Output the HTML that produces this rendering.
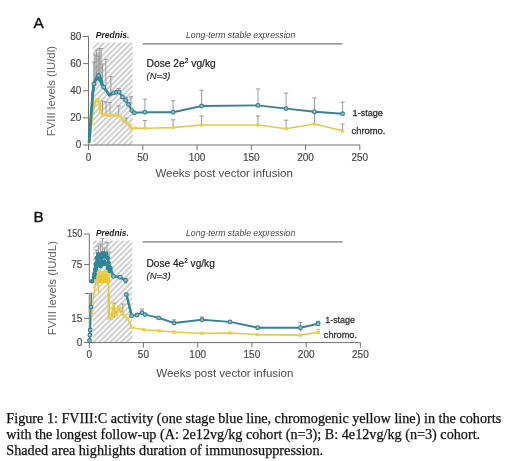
<!DOCTYPE html><html><head><meta charset="utf-8"><style>html,body{margin:0;padding:0;background:#fff;width:520px;height:461px;overflow:hidden}svg{display:block;font-family:"Liberation Sans",sans-serif;filter:blur(0.3px)}.cap{position:absolute;left:6.3px;top:409.7px;font-family:"Liberation Serif",serif;font-size:14.2px;line-height:16.1px;color:#111;white-space:nowrap;margin:0;-webkit-text-stroke:0.25px #111;filter:blur(0.3px)}</style></head><body>
<svg width="520" height="461" viewBox="0 0 520 461">
<defs><pattern id="hA" patternUnits="userSpaceOnUse" width="3.9" height="5" patternTransform="translate(1.9 0) rotate(45)"><rect width="2.1" height="5" fill="#d0d0d0"/></pattern><pattern id="hB" patternUnits="userSpaceOnUse" width="3.9" height="5" patternTransform="translate(-1.4 0) rotate(45)"><rect width="2.1" height="5" fill="#d0d0d0"/></pattern><clipPath id="cU"><rect x="80" y="225" width="300" height="58.3"/></clipPath><clipPath id="cL"><rect x="80" y="292.5" width="300" height="60"/></clipPath></defs>
<rect x="93.2" y="42.5" width="39.499999999999986" height="102.5" fill="url(#hA)"/>
<path d="M83 36.5H88.5V145H360M88.5 145V150" fill="none" stroke="#707070" stroke-width="1"/>
<line x1="83" y1="145.0" x2="88.5" y2="145.0" stroke="#707070" stroke-width="1"/>
<line x1="83" y1="117.875" x2="88.5" y2="117.875" stroke="#707070" stroke-width="1"/>
<line x1="83" y1="90.75" x2="88.5" y2="90.75" stroke="#707070" stroke-width="1"/>
<line x1="83" y1="63.625" x2="88.5" y2="63.625" stroke="#707070" stroke-width="1"/>
<line x1="142.8" y1="145" x2="142.8" y2="150" stroke="#707070" stroke-width="1"/>
<line x1="197.0" y1="145" x2="197.0" y2="150" stroke="#707070" stroke-width="1"/>
<line x1="251.3" y1="145" x2="251.3" y2="150" stroke="#707070" stroke-width="1"/>
<line x1="305.5" y1="145" x2="305.5" y2="150" stroke="#707070" stroke-width="1"/>
<line x1="359.8" y1="145" x2="359.8" y2="150" stroke="#707070" stroke-width="1"/>
<text x="81.3" y="148.2" font-size="10" text-anchor="end" fill="#4a4a4a" stroke="#4a4a4a" stroke-width="0.2"  >0</text>
<text x="81.3" y="121.075" font-size="10" text-anchor="end" fill="#4a4a4a" stroke="#4a4a4a" stroke-width="0.2"  >20</text>
<text x="81.3" y="93.95" font-size="10" text-anchor="end" fill="#4a4a4a" stroke="#4a4a4a" stroke-width="0.2"  >40</text>
<text x="81.3" y="66.825" font-size="10" text-anchor="end" fill="#4a4a4a" stroke="#4a4a4a" stroke-width="0.2"  >60</text>
<text x="81.3" y="39.7" font-size="10" text-anchor="end" fill="#4a4a4a" stroke="#4a4a4a" stroke-width="0.2"  >80</text>
<text x="88.5" y="160.8" font-size="10" text-anchor="middle" fill="#4a4a4a" stroke="#4a4a4a" stroke-width="0.2"  >0</text>
<text x="142.8" y="160.8" font-size="10" text-anchor="middle" fill="#4a4a4a" stroke="#4a4a4a" stroke-width="0.2"  >50</text>
<text x="197.0" y="160.8" font-size="10" text-anchor="middle" fill="#4a4a4a" stroke="#4a4a4a" stroke-width="0.2"  >100</text>
<text x="251.3" y="160.8" font-size="10" text-anchor="middle" fill="#4a4a4a" stroke="#4a4a4a" stroke-width="0.2"  >150</text>
<text x="305.5" y="160.8" font-size="10" text-anchor="middle" fill="#4a4a4a" stroke="#4a4a4a" stroke-width="0.2"  >200</text>
<text x="359.8" y="160.8" font-size="10" text-anchor="middle" fill="#4a4a4a" stroke="#4a4a4a" stroke-width="0.2"  >250</text>
<text x="155.4" y="177.2" font-size="11.5" text-anchor="start" fill="#4a4a4a"  textLength="137.4" lengthAdjust="spacingAndGlyphs">Weeks post vector infusion</text>
<text transform="translate(55.4,136.3) rotate(-90)" font-size="11.3" fill="#626262" textLength="90.3" lengthAdjust="spacingAndGlyphs">FVIII levels (IU/dl)</text>
<text x="33.6" y="27.9" font-size="15.4" text-anchor="start" fill="#111" stroke="#111" stroke-width="0.35"  >A</text>
<text x="95.8" y="38.1" font-size="8.5" text-anchor="start" fill="#222" font-weight="bold" font-style="italic" textLength="33.7" lengthAdjust="spacingAndGlyphs">Prednis.</text>
<text x="186" y="38" font-size="8.65" text-anchor="start" fill="#444" font-style="italic" textLength="109.2" lengthAdjust="spacingAndGlyphs">Long-term stable expression</text>
<line x1="142.5" y1="43.8" x2="342.3" y2="43.8" stroke="#7a7a7a" stroke-width="1.3"/>
<text x="146.6" y="66.6" font-size="10.2" fill="#222" stroke="#222" stroke-width="0.2" textLength="69.2" lengthAdjust="spacingAndGlyphs">Dose 2e<tspan font-size="6.5" dy="-3.2">2</tspan><tspan dy="3.2"> vg/kg</tspan></text>
<text x="146.6" y="78.6" font-size="9.2" text-anchor="start" fill="#333" stroke="#333" stroke-width="0.2" font-style="italic" textLength="23.7" lengthAdjust="spacingAndGlyphs">(N=3)</text>
<text x="352.6" y="115.8" font-size="9.0" text-anchor="start" fill="#333" stroke="#333" stroke-width="0.3"  textLength="30.2" lengthAdjust="spacingAndGlyphs">1-stage</text>
<text x="351.5" y="134.2" font-size="9.2" text-anchor="start" fill="#333" stroke="#333" stroke-width="0.3"  textLength="33.9" lengthAdjust="spacingAndGlyphs">chromo.</text>
<rect x="93.6" y="52" width="8" height="26" fill="#b5b5b5" opacity="0.45"/>
<line x1="93.8" y1="90" x2="93.8" y2="62" stroke="#9a9a9a" stroke-width="1"/>
<line x1="91.8" y1="62" x2="95.8" y2="62" stroke="#9a9a9a" stroke-width="1"/>
<line x1="95" y1="85" x2="95" y2="55" stroke="#9a9a9a" stroke-width="1"/>
<line x1="93" y1="55" x2="97" y2="55" stroke="#9a9a9a" stroke-width="1"/>
<line x1="96.7" y1="80" x2="96.7" y2="50" stroke="#9a9a9a" stroke-width="1"/>
<line x1="94.7" y1="50" x2="98.7" y2="50" stroke="#9a9a9a" stroke-width="1"/>
<line x1="98.3" y1="78" x2="98.3" y2="56" stroke="#9a9a9a" stroke-width="1"/>
<line x1="96.3" y1="56" x2="100.3" y2="56" stroke="#9a9a9a" stroke-width="1"/>
<line x1="99.3" y1="76" x2="99.3" y2="48.5" stroke="#9a9a9a" stroke-width="1"/>
<line x1="97.3" y1="48.5" x2="101.3" y2="48.5" stroke="#9a9a9a" stroke-width="1"/>
<line x1="101" y1="78" x2="101" y2="48.5" stroke="#9a9a9a" stroke-width="1"/>
<line x1="99" y1="48.5" x2="103" y2="48.5" stroke="#9a9a9a" stroke-width="1"/>
<line x1="102.5" y1="84" x2="102.5" y2="64" stroke="#9a9a9a" stroke-width="1"/>
<line x1="100.5" y1="64" x2="104.5" y2="64" stroke="#9a9a9a" stroke-width="1"/>
<line x1="105.8" y1="86" x2="105.8" y2="59.4" stroke="#9a9a9a" stroke-width="1"/>
<line x1="103.8" y1="59.4" x2="107.8" y2="59.4" stroke="#9a9a9a" stroke-width="1"/>
<line x1="110.8" y1="94" x2="110.8" y2="76.7" stroke="#9a9a9a" stroke-width="1"/>
<line x1="108.8" y1="76.7" x2="112.8" y2="76.7" stroke="#9a9a9a" stroke-width="1"/>
<line x1="118.7" y1="93" x2="118.7" y2="88.5" stroke="#9a9a9a" stroke-width="1"/>
<line x1="116.7" y1="88.5" x2="120.7" y2="88.5" stroke="#9a9a9a" stroke-width="1"/>
<line x1="126" y1="102" x2="126" y2="97.2" stroke="#9a9a9a" stroke-width="1"/>
<line x1="124" y1="97.2" x2="128" y2="97.2" stroke="#9a9a9a" stroke-width="1"/>
<line x1="130.9" y1="108" x2="130.9" y2="96.7" stroke="#9a9a9a" stroke-width="1"/>
<line x1="128.9" y1="96.7" x2="132.9" y2="96.7" stroke="#9a9a9a" stroke-width="1"/>
<line x1="102.5" y1="113" x2="102.5" y2="101" stroke="#9a9a9a" stroke-width="1"/>
<line x1="100.5" y1="101" x2="104.5" y2="101" stroke="#9a9a9a" stroke-width="1"/>
<line x1="106" y1="115" x2="106" y2="102" stroke="#9a9a9a" stroke-width="1"/>
<line x1="104" y1="102" x2="108" y2="102" stroke="#9a9a9a" stroke-width="1"/>
<line x1="110" y1="115" x2="110" y2="102.5" stroke="#9a9a9a" stroke-width="1"/>
<line x1="108" y1="102.5" x2="112" y2="102.5" stroke="#9a9a9a" stroke-width="1"/>
<line x1="118.75" y1="115" x2="118.75" y2="106" stroke="#9a9a9a" stroke-width="1"/>
<line x1="116.75" y1="106" x2="120.75" y2="106" stroke="#9a9a9a" stroke-width="1"/>
<line x1="126" y1="122" x2="126" y2="118" stroke="#9a9a9a" stroke-width="1"/>
<line x1="124" y1="118" x2="128" y2="118" stroke="#9a9a9a" stroke-width="1"/>
<line x1="144.9" y1="112.2" x2="144.9" y2="99" stroke="#9a9a9a" stroke-width="1"/>
<line x1="142.70000000000002" y1="99" x2="147.1" y2="99" stroke="#9a9a9a" stroke-width="1"/>
<line x1="173.1" y1="112.2" x2="173.1" y2="100.7" stroke="#9a9a9a" stroke-width="1"/>
<line x1="170.9" y1="100.7" x2="175.29999999999998" y2="100.7" stroke="#9a9a9a" stroke-width="1"/>
<line x1="201.6" y1="106" x2="201.6" y2="90.2" stroke="#9a9a9a" stroke-width="1"/>
<line x1="199.4" y1="90.2" x2="203.79999999999998" y2="90.2" stroke="#9a9a9a" stroke-width="1"/>
<line x1="258" y1="105.4" x2="258" y2="88.9" stroke="#9a9a9a" stroke-width="1"/>
<line x1="255.8" y1="88.9" x2="260.2" y2="88.9" stroke="#9a9a9a" stroke-width="1"/>
<line x1="286.1" y1="108.6" x2="286.1" y2="93.1" stroke="#9a9a9a" stroke-width="1"/>
<line x1="283.90000000000003" y1="93.1" x2="288.3" y2="93.1" stroke="#9a9a9a" stroke-width="1"/>
<line x1="314.5" y1="111.7" x2="314.5" y2="98" stroke="#9a9a9a" stroke-width="1"/>
<line x1="312.3" y1="98" x2="316.7" y2="98" stroke="#9a9a9a" stroke-width="1"/>
<line x1="342.6" y1="113.8" x2="342.6" y2="102.2" stroke="#9a9a9a" stroke-width="1"/>
<line x1="340.40000000000003" y1="102.2" x2="344.8" y2="102.2" stroke="#9a9a9a" stroke-width="1"/>
<line x1="144.9" y1="128.2" x2="144.9" y2="120.6" stroke="#9a9a9a" stroke-width="1"/>
<line x1="142.70000000000002" y1="120.6" x2="147.1" y2="120.6" stroke="#9a9a9a" stroke-width="1"/>
<line x1="173.1" y1="127.6" x2="173.1" y2="119.8" stroke="#9a9a9a" stroke-width="1"/>
<line x1="170.9" y1="119.8" x2="175.29999999999998" y2="119.8" stroke="#9a9a9a" stroke-width="1"/>
<line x1="201.6" y1="125" x2="201.6" y2="116" stroke="#9a9a9a" stroke-width="1"/>
<line x1="199.4" y1="116" x2="203.79999999999998" y2="116" stroke="#9a9a9a" stroke-width="1"/>
<line x1="258" y1="125" x2="258" y2="116" stroke="#9a9a9a" stroke-width="1"/>
<line x1="255.8" y1="116" x2="260.2" y2="116" stroke="#9a9a9a" stroke-width="1"/>
<line x1="286.1" y1="128.7" x2="286.1" y2="120.2" stroke="#9a9a9a" stroke-width="1"/>
<line x1="283.90000000000003" y1="120.2" x2="288.3" y2="120.2" stroke="#9a9a9a" stroke-width="1"/>
<line x1="314.5" y1="124" x2="314.5" y2="113" stroke="#9a9a9a" stroke-width="1"/>
<line x1="312.3" y1="113" x2="316.7" y2="113" stroke="#9a9a9a" stroke-width="1"/>
<line x1="342.6" y1="130.8" x2="342.6" y2="124" stroke="#9a9a9a" stroke-width="1"/>
<line x1="340.40000000000003" y1="124" x2="344.8" y2="124" stroke="#9a9a9a" stroke-width="1"/>
<polyline points="89.0,144.0 90.5,132.0 92.0,118.0 93.5,108.0 95.0,102.5 96.5,100.0 98.0,99.5 99.5,104.0 100.5,112.0 103.0,115.0 106.0,114.5 110.0,115.2 114.0,115.0 117.0,115.3 120.0,115.8 123.0,120.4 126.2,122.7 129.2,125.0 131.5,128.8 135.4,128.0 144.9,128.2 173.1,127.6 201.6,125.0 258.0,125.0 286.1,128.7 314.5,124.0 342.6,130.8" fill="none" stroke="#e2ca48" stroke-width="1.6" stroke-linejoin="round"/>
<polyline points="89.0,144.0 90.5,132.0 92.0,118.0 93.5,108.0 95.0,102.5 96.5,100.0 98.0,99.5 99.5,104.0 100.5,112.0 103.0,115.0 106.0,114.5 110.0,115.2" fill="none" stroke="#efc52e" stroke-width="2.4" stroke-linejoin="round"/>
<rect x="94.9" y="98.4" width="3.2" height="3.2" fill="#e8cf55"/>
<rect x="96.4" y="97.9" width="3.2" height="3.2" fill="#e8cf55"/>
<rect x="97.9" y="102.4" width="3.2" height="3.2" fill="#e8cf55"/>
<rect x="98.9" y="110.4" width="3.2" height="3.2" fill="#e8cf55"/>
<rect x="101.4" y="113.4" width="3.2" height="3.2" fill="#e8cf55"/>
<rect x="104.4" y="112.9" width="3.2" height="3.2" fill="#e8cf55"/>
<rect x="108.4" y="113.60000000000001" width="3.2" height="3.2" fill="#e8cf55"/>
<rect x="112.4" y="113.4" width="3.2" height="3.2" fill="#e8cf55"/>
<rect x="115.4" y="113.7" width="3.2" height="3.2" fill="#e8cf55"/>
<rect x="118.4" y="114.2" width="3.2" height="3.2" fill="#e8cf55"/>
<rect x="121.4" y="118.80000000000001" width="3.2" height="3.2" fill="#e8cf55"/>
<rect x="124.60000000000001" y="121.10000000000001" width="3.2" height="3.2" fill="#e8cf55"/>
<rect x="127.6" y="123.4" width="3.2" height="3.2" fill="#e8cf55"/>
<rect x="129.9" y="127.20000000000002" width="3.2" height="3.2" fill="#e8cf55"/>
<rect x="133.8" y="126.4" width="3.2" height="3.2" fill="#e8cf55"/>
<rect x="143.3" y="126.6" width="3.2" height="3.2" fill="#e8cf55"/>
<rect x="171.5" y="126.0" width="3.2" height="3.2" fill="#e8cf55"/>
<rect x="200.0" y="123.4" width="3.2" height="3.2" fill="#e8cf55"/>
<rect x="256.4" y="123.4" width="3.2" height="3.2" fill="#e8cf55"/>
<rect x="284.5" y="127.1" width="3.2" height="3.2" fill="#e8cf55"/>
<rect x="312.9" y="122.4" width="3.2" height="3.2" fill="#e8cf55"/>
<rect x="341.0" y="129.20000000000002" width="3.2" height="3.2" fill="#e8cf55"/>
<polyline points="89.0,143.0 89.7,135.0 90.4,125.0 91.2,112.0 92.0,104.0 93.0,92.0 94.0,84.0 95.5,80.0 96.8,77.0 98.3,75.5 99.8,76.5 101.0,79.5 102.2,84.0 103.7,87.2 106.5,91.0 109.4,95.3 113.5,92.9 116.5,92.3 119.2,92.1 122.5,97.0 125.7,100.2 128.5,104.5 131.7,110.6 134.3,112.8 144.9,112.2 173.1,112.2 201.6,106.0 258.0,105.4 286.1,108.6 314.5,111.7 342.6,113.8" fill="none" stroke="#3c8090" stroke-width="1.9" stroke-linejoin="round"/>
<polyline points="89.0,143.0 89.7,135.0 90.4,125.0 91.2,112.0 92.0,104.0 93.0,92.0 94.0,84.0 95.5,80.0 96.8,77.0 98.3,75.5 99.8,76.5 101.0,79.5 102.2,84.0 103.7,87.2 106.5,91.0 109.4,95.3 113.5,92.9 116.5,92.3" fill="none" stroke="#2f8799" stroke-width="2.8" stroke-linejoin="round"/>
<polyline points="92.3,96.0 93.5,86.0 95.0,80.5 97.0,79.0 99.0,79.5 100.8,82.0 102.0,86.0" fill="none" stroke="#2f8799" stroke-width="2.4" stroke-linejoin="round"/>
<circle cx="94" cy="84" r="1.9" fill="#86bfcc" stroke="#3c8090" stroke-width="1.1"/>
<circle cx="98.3" cy="75.5" r="1.9" fill="#86bfcc" stroke="#3c8090" stroke-width="1.1"/>
<circle cx="103.7" cy="87.2" r="1.9" fill="#86bfcc" stroke="#3c8090" stroke-width="1.1"/>
<circle cx="113.5" cy="92.9" r="1.9" fill="#86bfcc" stroke="#3c8090" stroke-width="1.1"/>
<circle cx="116.5" cy="92.3" r="1.9" fill="#86bfcc" stroke="#3c8090" stroke-width="1.1"/>
<circle cx="119.2" cy="92.1" r="1.9" fill="#86bfcc" stroke="#3c8090" stroke-width="1.1"/>
<circle cx="122.5" cy="97" r="1.9" fill="#86bfcc" stroke="#3c8090" stroke-width="1.1"/>
<circle cx="125.7" cy="100.2" r="1.9" fill="#86bfcc" stroke="#3c8090" stroke-width="1.1"/>
<circle cx="128.5" cy="104.5" r="1.9" fill="#86bfcc" stroke="#3c8090" stroke-width="1.1"/>
<circle cx="131.7" cy="110.6" r="1.9" fill="#86bfcc" stroke="#3c8090" stroke-width="1.1"/>
<circle cx="134.3" cy="112.8" r="1.9" fill="#86bfcc" stroke="#3c8090" stroke-width="1.1"/>
<circle cx="144.9" cy="112.2" r="1.9" fill="#86bfcc" stroke="#3c8090" stroke-width="1.1"/>
<circle cx="173.1" cy="112.2" r="1.9" fill="#86bfcc" stroke="#3c8090" stroke-width="1.1"/>
<circle cx="201.6" cy="106" r="1.9" fill="#86bfcc" stroke="#3c8090" stroke-width="1.1"/>
<circle cx="258" cy="105.4" r="1.9" fill="#86bfcc" stroke="#3c8090" stroke-width="1.1"/>
<circle cx="286.1" cy="108.6" r="1.9" fill="#86bfcc" stroke="#3c8090" stroke-width="1.1"/>
<circle cx="314.5" cy="111.7" r="1.9" fill="#86bfcc" stroke="#3c8090" stroke-width="1.1"/>
<circle cx="342.6" cy="113.8" r="1.9" fill="#86bfcc" stroke="#3c8090" stroke-width="1.1"/>
<rect x="93" y="240.5" width="39.30000000000001" height="102.10000000000002" fill="url(#hB)"/>
<path d="M84 234H89.3V282.8M89.3 293V342.6H360.4M89.3 342.6V348" fill="none" stroke="#707070" stroke-width="1"/>
<line x1="84" y1="264.6" x2="89.3" y2="264.6" stroke="#707070" stroke-width="1"/>
<line x1="84" y1="318.3" x2="89.3" y2="318.3" stroke="#707070" stroke-width="1"/>
<line x1="85" y1="293.5" x2="91.2" y2="293.5" stroke="#707070" stroke-width="1"/>
<line x1="84" y1="342.6" x2="89.3" y2="342.6" stroke="#707070" stroke-width="1"/>
<line x1="143.4" y1="342.6" x2="143.4" y2="347.6" stroke="#707070" stroke-width="1"/>
<line x1="197.7" y1="342.6" x2="197.7" y2="347.6" stroke="#707070" stroke-width="1"/>
<line x1="251.9" y1="342.6" x2="251.9" y2="347.6" stroke="#707070" stroke-width="1"/>
<line x1="306.2" y1="342.6" x2="306.2" y2="347.6" stroke="#707070" stroke-width="1"/>
<line x1="360.4" y1="342.6" x2="360.4" y2="347.6" stroke="#707070" stroke-width="1"/>
<text x="82.3" y="237.2" font-size="10" text-anchor="end" fill="#4a4a4a" stroke="#4a4a4a" stroke-width="0.2"  textLength="15.2" lengthAdjust="spacingAndGlyphs">150</text>
<text x="82.3" y="267.8" font-size="10" text-anchor="end" fill="#4a4a4a" stroke="#4a4a4a" stroke-width="0.2"  >75</text>
<text x="82.3" y="321.5" font-size="10" text-anchor="end" fill="#4a4a4a" stroke="#4a4a4a" stroke-width="0.2"  >15</text>
<text x="82.3" y="345.59999999999997" font-size="10" text-anchor="end" fill="#4a4a4a" stroke="#4a4a4a" stroke-width="0.2"  >0</text>
<text x="89.2" y="358.1" font-size="10" text-anchor="middle" fill="#4a4a4a" stroke="#4a4a4a" stroke-width="0.2"  >0</text>
<text x="143.4" y="358.1" font-size="10" text-anchor="middle" fill="#4a4a4a" stroke="#4a4a4a" stroke-width="0.2"  >50</text>
<text x="197.7" y="358.1" font-size="10" text-anchor="middle" fill="#4a4a4a" stroke="#4a4a4a" stroke-width="0.2"  >100</text>
<text x="251.9" y="358.1" font-size="10" text-anchor="middle" fill="#4a4a4a" stroke="#4a4a4a" stroke-width="0.2"  >150</text>
<text x="306.2" y="358.1" font-size="10" text-anchor="middle" fill="#4a4a4a" stroke="#4a4a4a" stroke-width="0.2"  >200</text>
<text x="360.4" y="358.1" font-size="10" text-anchor="middle" fill="#4a4a4a" stroke="#4a4a4a" stroke-width="0.2"  >250</text>
<text x="156.3" y="376.7" font-size="11.5" text-anchor="start" fill="#4a4a4a"  textLength="137.1" lengthAdjust="spacingAndGlyphs">Weeks post vector infusion</text>
<text transform="translate(56.2,335.2) rotate(-90)" font-size="11.3" fill="#626262" textLength="94.2" lengthAdjust="spacingAndGlyphs">FVIII levels (IU/dL)</text>
<text x="33.6" y="221.8" font-size="15.4" text-anchor="start" fill="#111" stroke="#111" stroke-width="0.35"  >B</text>
<text x="96" y="236.3" font-size="8.5" text-anchor="start" fill="#222" font-weight="bold" font-style="italic" textLength="32.7" lengthAdjust="spacingAndGlyphs">Prednis.</text>
<text x="186" y="236.2" font-size="8.65" text-anchor="start" fill="#444" font-style="italic" textLength="109.2" lengthAdjust="spacingAndGlyphs">Long-term stable expression</text>
<line x1="142.7" y1="241.8" x2="342.7" y2="241.8" stroke="#7a7a7a" stroke-width="1.3"/>
<text x="146.5" y="266.5" font-size="10.2" fill="#222" stroke="#222" stroke-width="0.2" textLength="68.3" lengthAdjust="spacingAndGlyphs">Dose 4e<tspan font-size="6.5" dy="-3.2">2</tspan><tspan dy="3.2"> vg/kg</tspan></text>
<text x="146.5" y="279.2" font-size="9.2" text-anchor="start" fill="#333" stroke="#333" stroke-width="0.2" font-style="italic" textLength="24.1" lengthAdjust="spacingAndGlyphs">(N=3)</text>
<text x="325.2" y="323" font-size="9.0" text-anchor="start" fill="#333" stroke="#333" stroke-width="0.3"  textLength="29.8" lengthAdjust="spacingAndGlyphs">1-stage</text>
<text x="323.8" y="337.5" font-size="9.2" text-anchor="start" fill="#333" stroke="#333" stroke-width="0.3"  textLength="33.2" lengthAdjust="spacingAndGlyphs">chromo.</text>
<line x1="96.5" y1="262" x2="96.5" y2="250" stroke="#9a9a9a" stroke-width="1"/>
<line x1="94.5" y1="250" x2="98.5" y2="250" stroke="#9a9a9a" stroke-width="1"/>
<line x1="98.5" y1="258" x2="98.5" y2="246" stroke="#9a9a9a" stroke-width="1"/>
<line x1="96.5" y1="246" x2="100.5" y2="246" stroke="#9a9a9a" stroke-width="1"/>
<line x1="100.5" y1="262" x2="100.5" y2="244" stroke="#9a9a9a" stroke-width="1"/>
<line x1="98.5" y1="244" x2="102.5" y2="244" stroke="#9a9a9a" stroke-width="1"/>
<line x1="102.3" y1="258" x2="102.3" y2="238.6" stroke="#9a9a9a" stroke-width="1"/>
<line x1="100.3" y1="238.6" x2="104.3" y2="238.6" stroke="#9a9a9a" stroke-width="1"/>
<line x1="107" y1="258" x2="107" y2="242.8" stroke="#9a9a9a" stroke-width="1"/>
<line x1="105" y1="242.8" x2="109" y2="242.8" stroke="#9a9a9a" stroke-width="1"/>
<line x1="104.5" y1="260" x2="104.5" y2="248" stroke="#9a9a9a" stroke-width="1"/>
<line x1="102.5" y1="248" x2="106.5" y2="248" stroke="#9a9a9a" stroke-width="1"/>
<line x1="109" y1="265" x2="109" y2="252" stroke="#9a9a9a" stroke-width="1"/>
<line x1="107" y1="252" x2="111" y2="252" stroke="#9a9a9a" stroke-width="1"/>
<line x1="90.2" y1="330" x2="90.2" y2="293.5" stroke="#9a9a9a" stroke-width="1"/>
<line x1="88.2" y1="293.5" x2="92.2" y2="293.5" stroke="#9a9a9a" stroke-width="1"/>
<line x1="114.3" y1="318" x2="114.3" y2="303" stroke="#9a9a9a" stroke-width="1"/>
<line x1="112.3" y1="303" x2="116.3" y2="303" stroke="#9a9a9a" stroke-width="1"/>
<line x1="122.8" y1="315" x2="122.8" y2="304" stroke="#9a9a9a" stroke-width="1"/>
<line x1="120.8" y1="304" x2="124.8" y2="304" stroke="#9a9a9a" stroke-width="1"/>
<line x1="142" y1="312.7" x2="142" y2="309" stroke="#9a9a9a" stroke-width="1"/>
<line x1="140" y1="309" x2="144" y2="309" stroke="#9a9a9a" stroke-width="1"/>
<line x1="174" y1="323" x2="174" y2="319.8" stroke="#9a9a9a" stroke-width="1"/>
<line x1="172" y1="319.8" x2="176" y2="319.8" stroke="#9a9a9a" stroke-width="1"/>
<line x1="202" y1="319.8" x2="202" y2="317" stroke="#9a9a9a" stroke-width="1"/>
<line x1="200" y1="317" x2="204" y2="317" stroke="#9a9a9a" stroke-width="1"/>
<line x1="300.4" y1="331.5" x2="300.4" y2="322.3" stroke="#7d9ca8" stroke-width="1"/>
<line x1="298.4" y1="322.3" x2="302.4" y2="322.3" stroke="#7d9ca8" stroke-width="1"/>
<line x1="318.2" y1="323.8" x2="318.2" y2="321.2" stroke="#7d9ca8" stroke-width="1"/>
<line x1="316.2" y1="321.2" x2="320.2" y2="321.2" stroke="#7d9ca8" stroke-width="1"/>
<line x1="318.2" y1="332.3" x2="318.2" y2="329.6" stroke="#d8c878" stroke-width="1"/>
<line x1="316.2" y1="329.6" x2="320.2" y2="329.6" stroke="#d8c878" stroke-width="1"/>
<g clip-path="url(#cU)"><polygon points="96.5,279 97.5,273 99.5,271 101.5,272 103,273.5 105,272 106.5,271 108.5,272.5 110,277 110,284 96,284" fill="#efc52e"/></g>
<polyline points="93.2,300.0 95.5,282.0 96.5,277.0 97.5,273.5 99.5,271.5 101.0,273.0 103.0,274.0 105.0,272.0 106.5,271.5 108.0,273.0 108.5,276.0 108.8,318.0 111.5,318.0 113.5,306.0 116.0,315.0 119.0,307.0 122.3,314.0 124.5,316.0 127.5,318.5 131.7,327.5 144.0,329.8 158.7,330.8 174.0,332.0 202.0,333.3 230.0,333.0 257.7,334.6 300.4,335.1 318.2,332.3" fill="none" stroke="#e2ca48" stroke-width="1.6" stroke-linejoin="round"/>
<polyline points="89.5,341.0 90.3,334.0 91.2,325.0 92.2,314.0 93.2,300.0" fill="none" stroke="#e2ca48" stroke-width="1.3" stroke-linejoin="round"/>
<polyline points="97.8,280.0 98.6,293.0" fill="none" stroke="#e2ca48" stroke-width="1.6" stroke-linejoin="round"/>
<g clip-path="url(#cU)">
<polyline points="95.5,282.0 96.5,277.0 97.5,273.5 99.5,271.5 101.0,273.0 103.0,274.0 105.0,272.0 106.5,271.5 108.0,273.0 108.5,276.0 108.8,318.0 111.5,318.0 113.5,306.0 116.0,315.0 119.0,307.0 122.3,314.0 124.5,316.0" fill="none" stroke="#efc52e" stroke-width="2.2" stroke-linejoin="round"/>
<rect x="93.8" y="280.3" width="3.4" height="3.4" fill="#e8cf55"/>
<rect x="94.8" y="275.3" width="3.4" height="3.4" fill="#e8cf55"/>
<rect x="95.8" y="271.8" width="3.4" height="3.4" fill="#e8cf55"/>
<rect x="97.8" y="269.8" width="3.4" height="3.4" fill="#e8cf55"/>
<rect x="99.3" y="271.3" width="3.4" height="3.4" fill="#e8cf55"/>
<rect x="101.3" y="272.3" width="3.4" height="3.4" fill="#e8cf55"/>
<rect x="103.3" y="270.3" width="3.4" height="3.4" fill="#e8cf55"/>
<rect x="104.8" y="269.8" width="3.4" height="3.4" fill="#e8cf55"/>
<rect x="106.3" y="271.3" width="3.4" height="3.4" fill="#e8cf55"/>
<rect x="106.8" y="274.3" width="3.4" height="3.4" fill="#e8cf55"/>
<polyline points="91.8,284.0 92.0,281.5 94.0,277.0 95.3,270.0 96.0,264.0 97.0,258.0 98.5,254.5 100.0,256.0 101.0,262.0 102.0,257.0 103.0,253.5 104.5,256.0 106.0,254.0 107.5,258.0 108.5,263.0 110.4,268.4 113.4,276.2 120.2,277.2 125.6,280.3 126.4,294.5 131.6,315.7 137.0,315.0 142.0,312.7 145.2,314.6 158.7,317.9 174.0,323.0 202.0,319.8 230.0,321.9 257.7,327.7 300.4,327.7 318.2,323.8" fill="none" stroke="#3c8090" stroke-width="1.9" stroke-linejoin="round"/>
<polyline points="89.5,340.5 89.9,335.0 90.2,330.0 90.6,318.0 91.0,307.0 91.4,302.0 91.8,284.0" fill="none" stroke="#3c8090" stroke-width="1.3" stroke-linejoin="round"/>
<polyline points="92.0,281.5 94.0,277.0 95.3,270.0 96.0,264.0 97.0,258.0 98.5,254.5 100.0,256.0 101.0,262.0 102.0,257.0 103.0,253.5 104.5,256.0 106.0,254.0 107.5,258.0 108.5,263.0 110.4,268.4 113.4,276.2 120.2,277.2 125.6,280.3 126.4,294.5 131.6,315.7" fill="none" stroke="#2f8799" stroke-width="2.3" stroke-linejoin="round"/>
<polyline points="94.5,274.0 96.0,268.0 97.5,265.0 99.0,262.0 100.5,266.0 102.0,264.0 104.0,262.0 106.0,264.0 108.0,268.0 110.0,271.0" fill="none" stroke="#2f8799" stroke-width="2.0" stroke-linejoin="round"/>
<circle cx="92" cy="281.5" r="1.9" fill="#2f8799" stroke="#2f8799" stroke-width="1.1"/>
<circle cx="94" cy="277" r="1.9" fill="#2f8799" stroke="#2f8799" stroke-width="1.1"/>
<circle cx="95.3" cy="270" r="1.9" fill="#2f8799" stroke="#2f8799" stroke-width="1.1"/>
<circle cx="96" cy="264" r="1.9" fill="#2f8799" stroke="#2f8799" stroke-width="1.1"/>
<circle cx="97" cy="258" r="1.9" fill="#2f8799" stroke="#2f8799" stroke-width="1.1"/>
<circle cx="98.5" cy="254.5" r="1.9" fill="#2f8799" stroke="#2f8799" stroke-width="1.1"/>
<circle cx="100" cy="256" r="1.9" fill="#2f8799" stroke="#2f8799" stroke-width="1.1"/>
<circle cx="101" cy="262" r="1.9" fill="#2f8799" stroke="#2f8799" stroke-width="1.1"/>
<circle cx="102" cy="257" r="1.9" fill="#2f8799" stroke="#2f8799" stroke-width="1.1"/>
<circle cx="103" cy="253.5" r="1.9" fill="#2f8799" stroke="#2f8799" stroke-width="1.1"/>
<circle cx="104.5" cy="256" r="1.9" fill="#2f8799" stroke="#2f8799" stroke-width="1.1"/>
<circle cx="106" cy="254" r="1.9" fill="#2f8799" stroke="#2f8799" stroke-width="1.1"/>
<circle cx="107.5" cy="258" r="1.9" fill="#2f8799" stroke="#2f8799" stroke-width="1.1"/>
<circle cx="108.5" cy="263" r="1.9" fill="#2f8799" stroke="#2f8799" stroke-width="1.1"/>
<circle cx="110.4" cy="268.4" r="1.9" fill="#2f8799" stroke="#2f8799" stroke-width="1.1"/>
<circle cx="113.4" cy="276.2" r="1.9" fill="#86bfcc" stroke="#3c8090" stroke-width="1.1"/>
<circle cx="120.2" cy="277.2" r="1.9" fill="#86bfcc" stroke="#3c8090" stroke-width="1.1"/>
<circle cx="125.6" cy="280.3" r="1.9" fill="#86bfcc" stroke="#3c8090" stroke-width="1.1"/>
<circle cx="94.5" cy="274" r="1.9" fill="#2f8799" stroke="#2f8799" stroke-width="1.1"/>
<circle cx="96" cy="268" r="1.9" fill="#2f8799" stroke="#2f8799" stroke-width="1.1"/>
<circle cx="97.5" cy="265" r="1.9" fill="#2f8799" stroke="#2f8799" stroke-width="1.1"/>
<circle cx="99" cy="262" r="1.9" fill="#2f8799" stroke="#2f8799" stroke-width="1.1"/>
<circle cx="100.5" cy="266" r="1.9" fill="#2f8799" stroke="#2f8799" stroke-width="1.1"/>
<circle cx="102" cy="264" r="1.9" fill="#2f8799" stroke="#2f8799" stroke-width="1.1"/>
<circle cx="104" cy="262" r="1.9" fill="#2f8799" stroke="#2f8799" stroke-width="1.1"/>
<circle cx="106" cy="264" r="1.9" fill="#2f8799" stroke="#2f8799" stroke-width="1.1"/>
<circle cx="108" cy="268" r="1.9" fill="#2f8799" stroke="#2f8799" stroke-width="1.1"/>
<circle cx="110" cy="271" r="1.9" fill="#2f8799" stroke="#2f8799" stroke-width="1.1"/>
</g>
<g clip-path="url(#cL)">
<polyline points="95.5,282.0 96.5,277.0 97.5,273.5 99.5,271.5 101.0,273.0 103.0,274.0 105.0,272.0 106.5,271.5 108.0,273.0 108.5,276.0 108.8,318.0 111.5,318.0 113.5,306.0 116.0,315.0 119.0,307.0 122.3,314.0 124.5,316.0" fill="none" stroke="#efc52e" stroke-width="2.2" stroke-linejoin="round"/>
<rect x="107.1" y="316.3" width="3.4" height="3.4" fill="#e8cf55"/>
<rect x="109.8" y="316.3" width="3.4" height="3.4" fill="#e8cf55"/>
<rect x="111.8" y="304.3" width="3.4" height="3.4" fill="#e8cf55"/>
<rect x="114.3" y="313.3" width="3.4" height="3.4" fill="#e8cf55"/>
<rect x="117.3" y="305.3" width="3.4" height="3.4" fill="#e8cf55"/>
<rect x="120.6" y="312.3" width="3.4" height="3.4" fill="#e8cf55"/>
<rect x="122.8" y="314.3" width="3.4" height="3.4" fill="#e8cf55"/>
<rect x="125.8" y="316.8" width="3.4" height="3.4" fill="#e8cf55"/>
<rect x="130.0" y="325.8" width="3.4" height="3.4" fill="#e8cf55"/>
<rect x="142.3" y="328.1" width="3.4" height="3.4" fill="#e8cf55"/>
<rect x="157.0" y="329.1" width="3.4" height="3.4" fill="#e8cf55"/>
<rect x="172.3" y="330.3" width="3.4" height="3.4" fill="#e8cf55"/>
<rect x="200.3" y="331.6" width="3.4" height="3.4" fill="#e8cf55"/>
<rect x="228.3" y="331.3" width="3.4" height="3.4" fill="#e8cf55"/>
<rect x="256.0" y="332.90000000000003" width="3.4" height="3.4" fill="#e8cf55"/>
<rect x="298.7" y="333.40000000000003" width="3.4" height="3.4" fill="#e8cf55"/>
<rect x="316.5" y="330.6" width="3.4" height="3.4" fill="#e8cf55"/>
<polyline points="91.8,284.0 92.0,281.5 94.0,277.0 95.3,270.0 96.0,264.0 97.0,258.0 98.5,254.5 100.0,256.0 101.0,262.0 102.0,257.0 103.0,253.5 104.5,256.0 106.0,254.0 107.5,258.0 108.5,263.0 110.4,268.4 113.4,276.2 120.2,277.2 125.6,280.3 126.4,294.5 131.6,315.7 137.0,315.0 142.0,312.7 145.2,314.6 158.7,317.9 174.0,323.0 202.0,319.8 230.0,321.9 257.7,327.7 300.4,327.7 318.2,323.8" fill="none" stroke="#3c8090" stroke-width="1.9" stroke-linejoin="round"/>
<polyline points="89.5,340.5 89.9,335.0 90.2,330.0 90.6,318.0 91.0,307.0 91.4,302.0 91.8,284.0" fill="none" stroke="#3c8090" stroke-width="1.3" stroke-linejoin="round"/>
<polyline points="92.0,281.5 94.0,277.0 95.3,270.0 96.0,264.0 97.0,258.0 98.5,254.5 100.0,256.0 101.0,262.0 102.0,257.0 103.0,253.5 104.5,256.0 106.0,254.0 107.5,258.0 108.5,263.0 110.4,268.4 113.4,276.2 120.2,277.2 125.6,280.3 126.4,294.5 131.6,315.7" fill="none" stroke="#2f8799" stroke-width="2.3" stroke-linejoin="round"/>
<polyline points="94.5,274.0 96.0,268.0 97.5,265.0 99.0,262.0 100.5,266.0 102.0,264.0 104.0,262.0 106.0,264.0 108.0,268.0 110.0,271.0" fill="none" stroke="#2f8799" stroke-width="2.0" stroke-linejoin="round"/>
<circle cx="89.5" cy="340.5" r="1.9" fill="#86bfcc" stroke="#3c8090" stroke-width="1.1"/>
<circle cx="89.9" cy="335" r="1.9" fill="#86bfcc" stroke="#3c8090" stroke-width="1.1"/>
<circle cx="90.2" cy="330" r="1.9" fill="#86bfcc" stroke="#3c8090" stroke-width="1.1"/>
<circle cx="91.0" cy="307" r="1.9" fill="#86bfcc" stroke="#3c8090" stroke-width="1.1"/>
<circle cx="126.4" cy="294.5" r="1.9" fill="#86bfcc" stroke="#3c8090" stroke-width="1.1"/>
<circle cx="131.6" cy="315.7" r="1.9" fill="#86bfcc" stroke="#3c8090" stroke-width="1.1"/>
<circle cx="137" cy="315" r="1.9" fill="#86bfcc" stroke="#3c8090" stroke-width="1.1"/>
<circle cx="142" cy="312.7" r="1.9" fill="#86bfcc" stroke="#3c8090" stroke-width="1.1"/>
<circle cx="145.2" cy="314.6" r="1.9" fill="#86bfcc" stroke="#3c8090" stroke-width="1.1"/>
<circle cx="158.7" cy="317.9" r="1.9" fill="#86bfcc" stroke="#3c8090" stroke-width="1.1"/>
<circle cx="174" cy="323" r="1.9" fill="#86bfcc" stroke="#3c8090" stroke-width="1.1"/>
<circle cx="202" cy="319.8" r="1.9" fill="#86bfcc" stroke="#3c8090" stroke-width="1.1"/>
<circle cx="230" cy="321.9" r="1.9" fill="#86bfcc" stroke="#3c8090" stroke-width="1.1"/>
<circle cx="257.7" cy="327.7" r="1.9" fill="#86bfcc" stroke="#3c8090" stroke-width="1.1"/>
<circle cx="300.4" cy="327.7" r="1.9" fill="#86bfcc" stroke="#3c8090" stroke-width="1.1"/>
<circle cx="318.2" cy="323.8" r="1.9" fill="#86bfcc" stroke="#3c8090" stroke-width="1.1"/>
</g>
</svg>
<div class="cap">Figure 1: FVIII:C activity (one stage blue line, chromogenic yellow line) in the cohorts<br>with the longest follow-up (A: 2e12vg/kg cohort (n=3); B: 4e12vg/kg (n=3) cohort.<br>Shaded area highlights duration of immunosuppression.</div>
</body></html>
